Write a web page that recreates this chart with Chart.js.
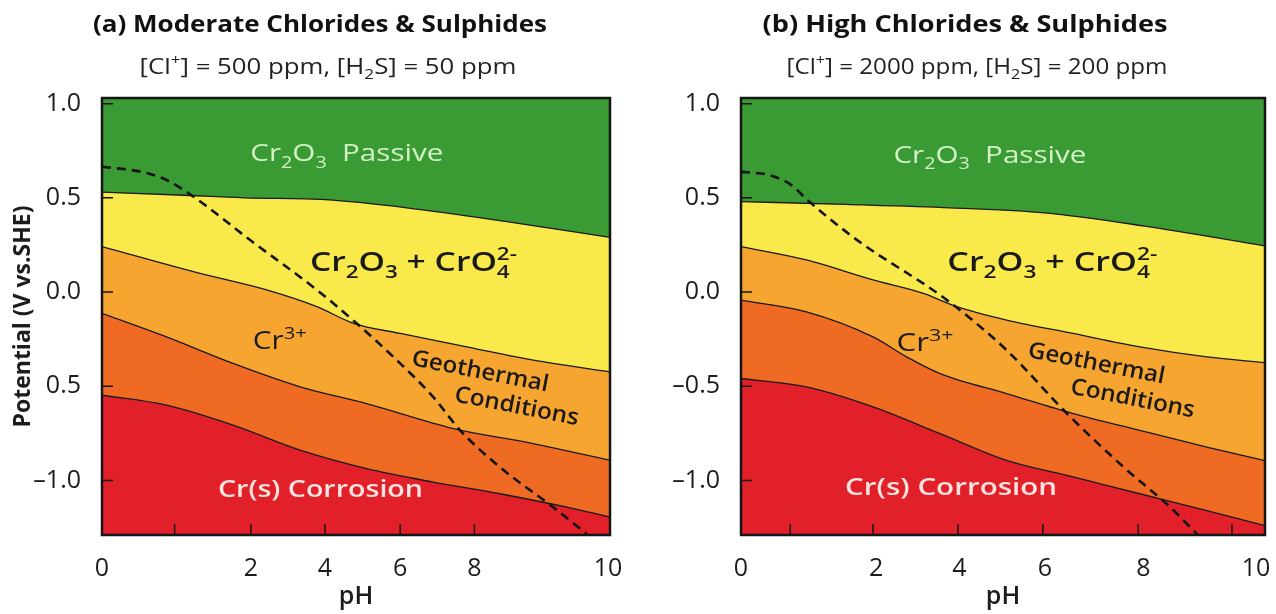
<!DOCTYPE html>
<html>
<head>
<meta charset="utf-8">
<script src="https://cdn.jsdelivr.net/npm/chart.js@4.4.1/dist/chart.umd.min.js"></script>
<style>
  html, body { margin: 0; padding: 0; background: #fff; overflow: hidden; }
  #wrap { position: relative; width: 1276px; height: 614px; overflow: hidden; }
  canvas { position: absolute; top: 0; }
  #chartA { left: 0; }
  #chartB { left: 638px; }
</style>
</head>
<body>
<div id="wrap">
  <canvas id="chartA" width="638" height="614"></canvas>
  <canvas id="chartB" width="645" height="614"></canvas>
</div>
<script>
// ------- panel (a) : moderate chlorides & sulphides -------
// x in axis units (0..10 across the plot), y = potential (V vs SHE)
const aPassiveX = [0, 1.5, 2.8, 4.4, 6.0, 8.0, 10];
const aPassiveY = [0.53, 0.515, 0.50, 0.49, 0.447, 0.372, 0.29];
const aCr3X = [0, 1.93, 3.24, 4.23, 4.95, 5.87, 7.18, 8.49, 10];
const aCr3Y = [0.241, 0.099, 0.011, -0.078, -0.166, -0.22, -0.291, -0.362, -0.424];
const aMidX = [0, 1.27, 2.58, 3.90, 5.21, 6.92, 8.49, 10];
const aMidY = [-0.113, -0.238, -0.379, -0.503, -0.592, -0.725, -0.805, -0.894];
const aCorrX = [0, 1.27, 2.58, 3.90, 5.21, 6.52, 7.83, 9.15, 10];
const aCorrY = [-0.548, -0.601, -0.707, -0.84, -0.938, -1.009, -1.071, -1.142, -1.195];
const aGeoX = [0, 0.77, 1.26, 1.75, 2.91, 4.23, 5.01, 5.87, 6.52, 7.05, 7.83, 8.88, 9.54];
const aGeoY = [0.665, 0.638, 0.596, 0.516, 0.277, 0.011, -0.166, -0.379, -0.557, -0.734, -0.929, -1.142, -1.284];

// ------- panel (b) : high chlorides & sulphides -------
const bPassiveX = [0, 2, 4, 5.8, 7.7, 10];
const bPassiveY = [0.48, 0.465, 0.447, 0.42, 0.35, 0.245];
const bCr3X = [0, 1.25, 2.52, 3.48, 4.12, 5.07, 6.34, 7.61, 8.89, 10];
const bCr3Y = [0.241, 0.170, 0.064, -0.007, -0.078, -0.149, -0.220, -0.291, -0.344, -0.375];
const bMidX = [0, 1.25, 2.52, 3.16, 3.80, 5.07, 6.34, 7.61, 8.89, 10];
const bMidY = [-0.043, -0.105, -0.238, -0.344, -0.433, -0.539, -0.645, -0.734, -0.823, -0.895];
const bCorrX = [0, 1.25, 2.52, 3.80, 5.07, 6.34, 7.61, 8.89, 10];
const bCorrY = [-0.459, -0.504, -0.610, -0.752, -0.894, -0.982, -1.071, -1.160, -1.24];
const bGeoX = [0, 0.55, 0.95, 1.3, 2.21, 3.93, 5.07, 6.22, 7.30, 8.19, 8.76];
const bGeoY = [0.638, 0.62, 0.57, 0.48, 0.277, -0.043, -0.309, -0.645, -0.929, -1.142, -1.302];

// ------- axes -------
const yTicks = [1.0, 0.5, 0.0, -0.5, -1.0];
const yLabelsA = ['1.0', '0.5', '0.0', '0.5', '\u20131.0'];
const yLabelsB = ['1.0', '0.5', '0.0', '\u20130.5', '\u20131.0'];
const xTicksA = [0, 2.93, 4.39, 5.87, 7.33, 9.96];
const xLabelsA = ['0', '2', '4', '6', '8', '10'];
const xMarksA = [1.43, 2.93, 4.39, 5.87, 7.33];
const xTicksB = [0, 2.58, 4.17, 5.80, 7.68, 9.83];
const xLabelsB = ['0', '2', '4', '6', '8', '10'];
const xMarksB = [0.94, 2.52, 4.14, 5.76, 7.58, 9.37];

const GREEN = '#3a9b35', YELLOW = '#f9e94b', ORANGE = '#f7a531', DKORANGE = '#ef6b24', RED = '#e2202a';
const FONT = "'Open Sans', 'Noto Sans', sans-serif";

Chart.defaults.font.family = FONT;
Chart.defaults.color = '#1c1c1c';

function pts(xs, ys) {
  return xs.map((x, i) => ({ x: x, y: ys[i] }));
}

function boundary(xs, ys, color, order) {
  return {
    data: pts(xs, ys),
    borderColor: '#1a1a1a',
    borderWidth: 1.3,
    pointRadius: 0,
    fill: 'start',
    backgroundColor: color,
    cubicInterpolationMode: 'monotone',
    order: order
  };
}

function dashed(xs, ys) {
  return {
    data: pts(xs, ys),
    borderColor: '#141414',
    borderWidth: 2.6,
    borderDash: [9, 6],
    pointRadius: 0,
    fill: false,
    cubicInterpolationMode: 'monotone',
    order: 0
  };
}

// green Cr2O3 passive region = whole plot behind the other fills
const areaFill = {
  id: 'areaFill',
  beforeDatasetsDraw(chart) {
    const { ctx, chartArea: a } = chart;
    ctx.save();
    ctx.fillStyle = GREEN;
    ctx.fillRect(a.left, a.top, a.right - a.left, a.bottom - a.top);
    ctx.restore();
  }
};

// box round the plot and the small inside tick marks
const frame = {
  id: 'frame',
  afterDatasetsDraw(chart, args, opts) {
    const { ctx, chartArea: a, scales } = chart;
    ctx.save();
    ctx.strokeStyle = '#151515';
    ctx.lineWidth = 1.5;
    ctx.beginPath();
    opts.xMarks.forEach(v => {
      const px = scales.x.getPixelForValue(v);
      ctx.moveTo(px, a.bottom);
      ctx.lineTo(px, a.bottom - 11);
    });
    opts.yMarks.forEach(v => {
      const py = scales.y.getPixelForValue(v);
      ctx.moveTo(a.left, py);
      ctx.lineTo(a.left + 11, py);
    });
    ctx.stroke();
    ctx.lineWidth = 2.5;
    ctx.strokeRect(a.left, a.top, a.right - a.left, a.bottom - a.top);
    ctx.restore();
  }
};

// text with sub/superscripts, squeezed or widened to a given width
function runFont(size, weight, kind) {
  const s = kind ? Math.round(size * 0.66) : size;
  return weight + ' ' + s + 'px ' + FONT;
}

function drawRuns(ctx, it, cx, cy) {
  let w = 0, lastSubX = 0;
  const placed = [];
  it.runs.forEach(r => {
    const kind = r[1] || '';
    ctx.font = runFont(it.size, it.weight, kind);
    const rw = ctx.measureText(r[0]).width;
    if (kind === 'stack') {
      placed.push({ t: r[0], kind: kind, x: lastSubX });
      w = Math.max(w, lastSubX + rw);
    } else {
      placed.push({ t: r[0], kind: kind, x: w });
      if (kind === 'sub') lastSubX = w;
      w += rw;
    }
  });
  const sx = it.width ? it.width / w : 1;
  ctx.save();
  ctx.translate(cx, cy);
  ctx.rotate((it.angle || 0) * Math.PI / 180);
  ctx.scale(sx, 1);
  ctx.fillStyle = it.color;
  ctx.textBaseline = 'alphabetic';
  ctx.textAlign = 'left';
  const base = it.size * 0.36;
  placed.forEach(p => {
    ctx.font = runFont(it.size, it.weight, p.kind);
    let dy = 0;
    if (p.kind === 'sub') dy = it.size * 0.26;
    if (p.kind === 'sup' || p.kind === 'stack') dy = -it.size * 0.40;
    ctx.fillText(p.t, p.x - w / 2, base + dy);
  });
  ctx.restore();
}

const regionLabels = {
  id: 'regionLabels',
  afterDatasetsDraw(chart, args, opts) {
    const { ctx, scales } = chart;
    opts.items.forEach(it => {
      drawRuns(ctx, it, scales.x.getPixelForValue(it.x), scales.y.getPixelForValue(it.y));
    });
  }
};

const headings = {
  id: 'headings',
  afterDraw(chart, args, opts) {
    opts.items.forEach(it => drawRuns(chart.ctx, it, it.cx, it.cy));
  }
};

function labelsFor(pos, w) {
  return [
    { x: pos[0][0], y: pos[0][1], runs: [['Cr'], ['2', 'sub'], ['O'], ['3', 'sub'], ['  Passive']], size: 24, weight: '500', color: '#d3f2c6', width: w[0] },
    { x: pos[1][0], y: pos[1][1], runs: [['Cr'], ['2', 'sub'], ['O'], ['3', 'sub'], [' + CrO'], ['4', 'sub'], ['2-', 'stack']], size: 27, weight: '600', color: '#1a1a1a', width: w[1] },
    { x: pos[2][0], y: pos[2][1], runs: [['Cr'], ['3+', 'sup']], size: 25, weight: '500', color: '#1a1a1a', width: w[2] },
    { x: pos[3][0], y: pos[3][1], runs: [['Geothermal']], size: 23, weight: '600', color: '#1a1a1a', angle: 11, width: w[3] },
    { x: pos[4][0], y: pos[4][1], runs: [['Conditions']], size: 23, weight: '600', color: '#1a1a1a', angle: 11, width: w[4] },
    { x: pos[5][0], y: pos[5][1], runs: [['Cr(s) Corrosion']], size: 24, weight: '600', color: '#fde3df', width: w[5] }
  ];
}

function headingsFor(h) {
  return [
    { cx: h.titleX, cy: 23, runs: [[h.title]], size: 24, weight: 'bold', color: '#111', width: h.titleW },
    { cx: h.subX, cy: 66, runs: h.sub, size: 21, weight: 'normal', color: '#222', width: h.subW }
  ];
}

function makeChart(id, cfg) {
  return new Chart(document.getElementById(id), {
    type: 'line',
    data: {
      datasets: [
        boundary(cfg.passive[0], cfg.passive[1], YELLOW, 4),
        boundary(cfg.cr3[0], cfg.cr3[1], ORANGE, 3),
        boundary(cfg.mid[0], cfg.mid[1], DKORANGE, 2),
        boundary(cfg.corr[0], cfg.corr[1], RED, 1),
        dashed(cfg.geo[0], cfg.geo[1])
      ]
    },
    options: {
      responsive: false,
      animation: false,
      layout: { padding: { left: 0, right: cfg.padRight, top: 98, bottom: 0 } },
      plugins: {
        legend: { display: false },
        tooltip: { enabled: false },
        frame: { xMarks: cfg.xMarks, yMarks: yTicks },
        regionLabels: { items: labelsFor(cfg.labelPos, cfg.labelW) },
        headings: { items: headingsFor(cfg.head) }
      },
      scales: {
        x: {
          type: 'linear',
          min: 0,
          max: 10,
          afterBuildTicks: s => { s.ticks = cfg.xTicks.map(v => ({ value: v })); },
          afterFit: s => { s.height = 79; },
          grid: { display: false },
          border: { display: false },
          ticks: {
            autoSkip: false,
            maxRotation: 0,
            padding: 11,
            color: '#1c1c1c',
            font: { size: 25 },
            callback: (v, i) => cfg.xLabels[i]
          },
          title: {
            display: true,
            text: 'pH',
            color: '#1c1c1c',
            font: { size: 25, weight: '600' },
            padding: { top: 0, bottom: 2 }
          }
        },
        y: {
          type: 'linear',
          min: -1.29,
          max: 1.03,
          afterBuildTicks: s => { s.ticks = yTicks.map(v => ({ value: v })); },
          afterFit: s => { s.width = cfg.yWidth; },
          grid: { display: false },
          border: { display: false },
          ticks: {
            padding: 13,
            color: '#1c1c1c',
            font: { size: 25 },
            callback: (v, i) => cfg.yLabels[i]
          },
          title: {
            display: cfg.yTitle !== '',
            text: cfg.yTitle,
            color: '#1c1c1c',
            font: { size: 23, weight: 'bold' },
            padding: { top: 10, bottom: 0 }
          }
        }
      }
    },
    plugins: [areaFill, frame, regionLabels, headings]
  });
}

makeChart('chartA', {
  head: {
    title: '(a) Moderate Chlorides & Sulphides', titleX: 320, titleW: 454,
    sub: [['[Cl'], ['+', 'sup'], ['] = 500 ppm, [H'], ['2', 'sub'], ['S] = 50 ppm']], subX: 328, subW: 377
  },
  passive: [aPassiveX, aPassiveY],
  cr3: [aCr3X, aCr3Y],
  mid: [aMidX, aMidY],
  corr: [aCorrX, aCorrY],
  geo: [aGeoX, aGeoY],
  xTicks: xTicksA,
  xLabels: xLabelsA,
  xMarks: xMarksA,
  yLabels: yLabelsA,
  yTitle: 'Potential (V vs.SHE)',
  yWidth: 102,
  padRight: 28,
  labelPos: [[4.82, 0.74], [6.13, 0.165], [3.50, -0.255], [7.45, -0.415], [8.17, -0.60], [4.30, -1.04]],
  labelW: [193, 207, 54, 139, 126, 205]
});

makeChart('chartB', {
  head: {
    title: '(b) High Chlorides & Sulphides', titleX: 327, titleW: 405,
    sub: [['[Cl'], ['+', 'sup'], ['] = 2000 ppm, [H'], ['2', 'sub'], ['S] = 200 ppm']], subX: 339, subW: 381
  },
  passive: [bPassiveX, bPassiveY],
  cr3: [bCr3X, bCr3Y],
  mid: [bMidX, bMidY],
  corr: [bCorrX, bCorrY],
  geo: [bGeoX, bGeoY],
  xTicks: xTicksB,
  xLabels: xLabelsB,
  xMarks: xMarksB,
  yLabels: yLabelsB,
  yTitle: '',
  yWidth: 103,
  padRight: 18,
  labelPos: [[4.75, 0.73], [5.94, 0.165], [3.51, -0.266], [6.79, -0.372], [7.48, -0.559], [4.01, -1.03]],
  labelW: [193, 210, 57, 139, 126, 212]
});
</script>
</body>
</html>
